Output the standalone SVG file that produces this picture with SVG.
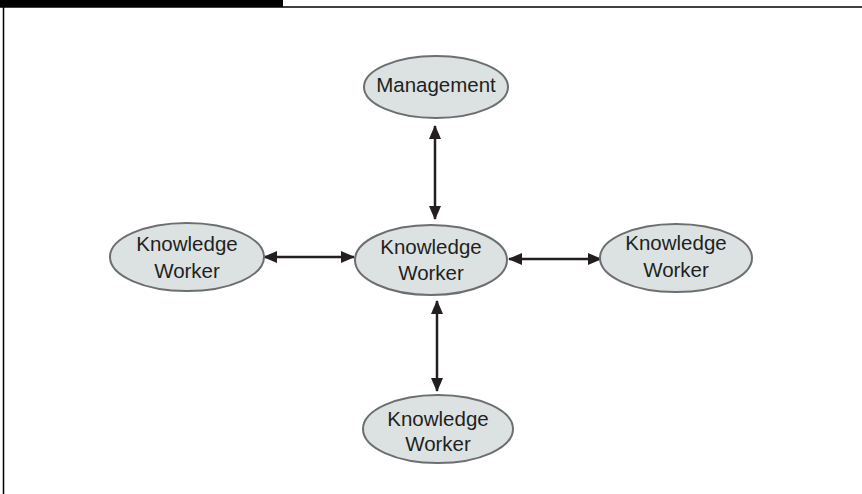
<svg xmlns="http://www.w3.org/2000/svg" width="862" height="494" viewBox="0 0 862 494">
<style>
.node ellipse{fill:#dce2e2;stroke:#6d6e71;stroke-width:2}
.node text{font-family:"Liberation Sans",Arial,sans-serif;font-size:20.5px;fill:#231f20;text-anchor:middle}
.conn line{stroke:#231f20;stroke-width:2.5}
</style>
<defs>
<marker id="ah" viewBox="0 0 14 12" refX="13" refY="6" markerWidth="14" markerHeight="12" markerUnits="userSpaceOnUse" orient="auto-start-reverse">
<path d="M0,0 L14,6 L0,12 Z" fill="#231f20"/>
</marker>
</defs>
<rect x="0" y="0" width="283" height="7" fill="#000"/>
<line x1="0" y1="7" x2="862" y2="7" stroke="#000" stroke-width="1.5"/>
<line x1="3.5" y1="7" x2="3.5" y2="494" stroke="#000" stroke-width="1.5"/>
<g class="conn">
<line x1="435" y1="126" x2="435" y2="219" marker-start="url(#ah)" marker-end="url(#ah)"/>
<line x1="264" y1="257" x2="354" y2="257" marker-start="url(#ah)" marker-end="url(#ah)"/>
<line x1="509" y1="259" x2="601" y2="259" marker-start="url(#ah)" marker-end="url(#ah)"/>
<line x1="437" y1="301" x2="437" y2="391" marker-start="url(#ah)" marker-end="url(#ah)"/>
</g>
<g id="management" class="node">
<ellipse cx="436" cy="87" rx="72" ry="31"/>
<text x="436" y="92">Management</text>
</g>
<g id="worker-center" class="node">
<ellipse cx="431" cy="260" rx="76" ry="35"/>
<text x="431" y="254">Knowledge</text>
<text x="431" y="280">Worker</text>
</g>
<g id="worker-left" class="node">
<ellipse cx="187" cy="257" rx="77" ry="34"/>
<text x="187" y="251">Knowledge</text>
<text x="187" y="278">Worker</text>
</g>
<g id="worker-right" class="node">
<ellipse cx="676" cy="258" rx="76" ry="34"/>
<text x="676" y="250">Knowledge</text>
<text x="676" y="277">Worker</text>
</g>
<g id="worker-bottom" class="node">
<ellipse cx="438" cy="429" rx="75" ry="34"/>
<text x="438" y="426">Knowledge</text>
<text x="438" y="451">Worker</text>
</g>
</svg>
